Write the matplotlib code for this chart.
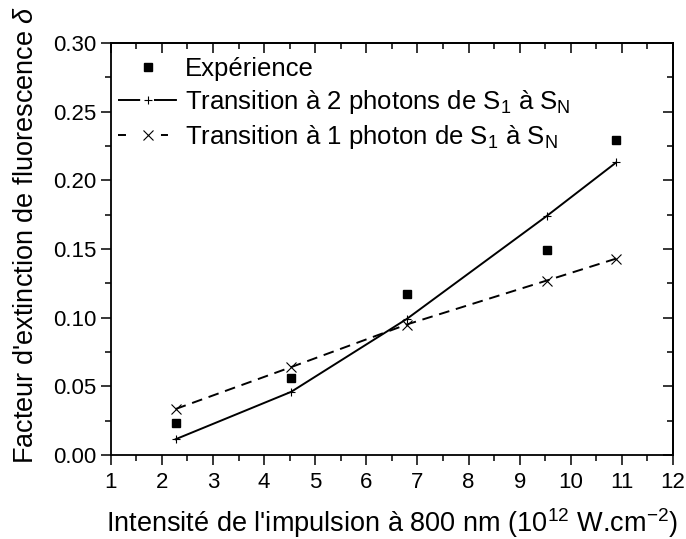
import numpy as np
import matplotlib
matplotlib.use("Agg")
import matplotlib.pyplot as plt
from matplotlib.ticker import MultipleLocator, FormatStrFormatter
from matplotlib.lines import Line2D

plt.rcParams['font.family'] = ['Liberation Sans', 'DejaVu Sans']
plt.rcParams['mathtext.fontset'] = 'custom'
plt.rcParams['mathtext.rm'] = 'Liberation Sans'
plt.rcParams['mathtext.it'] = 'Liberation Sans:italic'

intensite = [2.27, 4.53, 6.79, 9.53, 10.89]
experience = [0.023, 0.056, 0.117, 0.149, 0.229]
deux_photons = [0.0115, 0.046, 0.099, 0.174, 0.213]
un_photon = [0.0335, 0.064, 0.095, 0.127, 0.143]

labels = ['Expérience',
          'Transition à 2 photons de S$_1$ à S$_\\mathrm{N}$',
          'Transition à 1 photon de S$_1$ à S$_\\mathrm{N}$']

fig = plt.figure(figsize=(6.86, 5.39), dpi=100)
ax = fig.add_axes([0.1614, 0.1558, 0.8197, 0.7647])

ax.plot(intensite, experience, 's', color='black', ms=6, ls='none')
ax.plot(intensite, deux_photons, '-', color='black', lw=1.4, marker='+', ms=6, mew=0.8)
ax.plot(intensite, un_photon, '--', color='black', lw=1.4, marker='x', ms=7, mew=0.8,
        dashes=(5.5, 3.5))

ax.set_xlim(1, 12)
ax.set_ylim(0, 0.30)
ax.xaxis.set_major_locator(MultipleLocator(1))
ax.xaxis.set_minor_locator(MultipleLocator(0.5))
ax.yaxis.set_major_locator(MultipleLocator(0.05))
ax.yaxis.set_minor_locator(MultipleLocator(0.025))
ax.yaxis.set_major_formatter(FormatStrFormatter('%.2f'))
ax.tick_params(which='both', direction='out', labelsize=16, width=1.1)
ax.tick_params(which='major', length=7)
ax.tick_params(which='minor', length=4)
ax.tick_params(axis='x', pad=5)
ax.tick_params(axis='y', pad=3)
for s in ax.spines.values():
    s.set_linewidth(1.3)

# mirrored ticks pointing inward on top and right
top = ax.secondary_xaxis('top')
right = ax.secondary_yaxis('right')
top.xaxis.set_major_locator(MultipleLocator(1))
top.xaxis.set_minor_locator(MultipleLocator(0.5))
right.yaxis.set_major_locator(MultipleLocator(0.05))
right.yaxis.set_minor_locator(MultipleLocator(0.025))
for sec in (top, right):
    sec.tick_params(which='both', direction='in', width=1.1,
                    labeltop=False, labelright=False)
    sec.tick_params(which='major', length=7)
    sec.tick_params(which='minor', length=4)
    for s in sec.spines.values():
        s.set_linewidth(1.3)

ax.set_xlabel("Intensité de l'impulsion à 800 nm (10$^{12}$ W.cm$^{-2}$)", fontsize=19.5)
ax.set_ylabel("Facteur d'extinction de fluorescence $\\delta$", fontsize=19.5)
ax.xaxis.label.set_va('baseline')
ax.yaxis.label.set_va('baseline')
ax.xaxis.set_label_coords(0.50, -0.187)
ax.yaxis.set_label_coords(-0.138, 0.534)

# legend handles with the line broken around the symbol
h_exp = Line2D([], [], ls='none', marker='s', ms=6, color='black')
h_deux = Line2D([], [], color='black', lw=1.4, marker='+', ms=6, mew=0.8,
                dashes=(11.4, 7.1, 11.8, 50))
h_un = Line2D([], [], color='black', lw=1.4, marker='x', ms=7, mew=0.8,
              dashes=(4.1, 18, 3.6, 50))
ax.legend([h_exp, h_deux, h_un], labels, loc='upper left', frameon=False, fontsize=18.5,
          handlelength=2.3, handletextpad=0.3, labelspacing=0.27,
          borderpad=0, bbox_to_anchor=(-0.0096, 0.997))

fig.savefig('out.png', dpi=100)
